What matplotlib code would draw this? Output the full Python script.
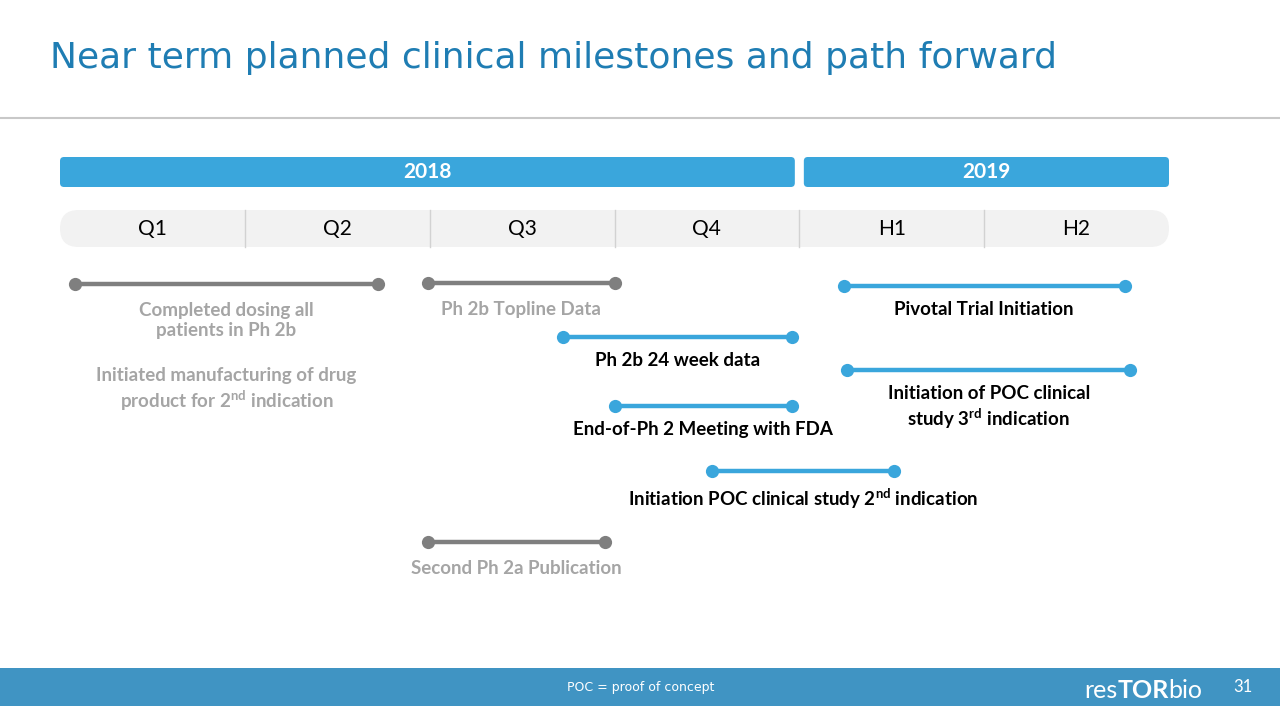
import matplotlib
matplotlib.use("Agg")
import matplotlib.pyplot as plt
from matplotlib.patches import FancyBboxPatch, Rectangle

plt.rcParams['mathtext.fontset'] = 'custom'
plt.rcParams['mathtext.rm'] = 'Lato'
plt.rcParams['mathtext.bf'] = 'Lato:bold'

# ---------------- data ----------------
title = "Near term planned clinical milestones and path forward"
periods = ["Q1", "Q2", "Q3", "Q4", "H1", "H2"]
years = ["2018", "2019"]
year_start = [0, 4]
year_end = [4, 6]

labels = [
    "Completed dosing all\npatients in Ph 2b",
    "Ph 2b Topline Data",
    "Second Ph 2a Publication",
    "Ph 2b 24 week data",
    "End-of-Ph 2 Meeting with FDA",
    "Initiation POC clinical study 2$^{\\mathbf{nd}}$ indication",
    "Pivotal Trial Initiation",
    "Initiation of POC clinical\nstudy 3$^{\\mathbf{rd}}$ indication",
]
starts = [0.08, 1.99, 1.99, 2.72, 3.00, 3.53, 4.24, 4.26]
ends = [1.72, 3.00, 2.95, 3.96, 3.96, 4.51, 5.76, 5.79]
done = [True, True, True, False, False, False, False, False]
rows = [284, 283, 542, 337, 406, 471, 286, 370]   # vertical slot (pixels)

extra_note = "Initiated manufacturing of drug\nproduct for 2$^{\\mathbf{nd}}$ indication"
footnote = "POC = proof of concept"
page = "31"

# ---------------- style ----------------
W, H = 1280, 720
X0, X1 = 60, 1169          # pixel extent of timeline
unit = (X1 - X0) / len(periods)
BLUE = "#3aa6dc"
GRAY = "#7f7f7f"
GRAY_TXT = "#a5a5a5"
TITLE_C = "#1f7db3"
FOOT_C = "#4094c3"

fig = plt.figure(figsize=(12.8, 7.2), dpi=100)
fig.patch.set_facecolor("white")

# pixel axes for page chrome
axp = fig.add_axes([0, 0, 1, 1])
axp.set_xlim(0, W)
axp.set_ylim(H, 0)
axp.axis("off")

axp.text(50, 58, title, fontsize=26, color=TITLE_C, family="DejaVu Sans",
         va="center", ha="left")
axp.plot([0, W], [118, 118], color="#c8c8c8", lw=1.5)
axp.add_patch(Rectangle((0, 668), W, 38, facecolor=FOOT_C, edgecolor="none"))
axp.text(567, 688, footnote, fontsize=9, color="white", va="center", ha="left",
         family="DejaVu Sans")
axp.text(1243, 687, page, fontsize=12, color="white", va="center", ha="center",
         family="Lato")
t1 = axp.text(1084, 690, "res", fontsize=18, color="white", va="center",
              ha="left", family="Lato")
t2 = axp.annotate("TOR", xy=(1, 0), xycoords=t1, va="bottom", ha="left",
                  fontsize=18, color="white", family="Lato", fontweight="bold")
axp.annotate("bio", xy=(1, 0), xycoords=t2, va="bottom", ha="left",
             fontsize=18, color="white", family="Lato")

# timeline axes (x in periods, y in pixel rows)
ax = fig.add_axes([0, 0, 1, 1])
ax.set_xlim(-X0 / unit, (W - X0) / unit)
ax.set_ylim(H, 0)
ax.axis("off")
ax.patch.set_alpha(0)
asp = unit  # y units per x unit

# year bars
gap = 4.5 / unit
for yl, s, e in zip(years, year_start, year_end):
    s2 = s + (gap if s > 0 else 0)
    e2 = e - (gap if e < len(periods) else 0)
    ax.add_patch(FancyBboxPatch((s2, 157), e2 - s2, 30,
                                boxstyle=f"round,pad=0,rounding_size={4/unit}",
                                mutation_aspect=asp, facecolor=BLUE,
                                edgecolor="none"))
    ax.text((s2 + e2) / 2, 172.5, yl, color="white", fontsize=15,
            fontweight="bold", family="Lato", ha="center", va="center")

# period strip
ax.add_patch(FancyBboxPatch((0, 210), len(periods), 37,
                            boxstyle=f"round,pad=0,rounding_size={18.5/unit}",
                            mutation_aspect=asp, facecolor="#f2f2f2",
                            edgecolor="none"))
for i, p in enumerate(periods):
    ax.text(i + 0.5, 229, p, fontsize=15, family="Lato", ha="center",
            va="center", color="black")
    if i > 0:
        ax.plot([i, i], [210, 247], color="#d2d2d2", lw=1)

# milestones
for lab, s, e, d, r in zip(labels, starts, ends, done, rows):
    c = GRAY if d else BLUE
    tc = GRAY_TXT if d else "black"
    ax.plot([s, e], [r, r], color=c, lw=3.2, solid_capstyle="butt",
            marker="o", markersize=9.5, markeredgewidth=0)
    ax.text((s + e) / 2, r + (18 if d else 15), lab, fontsize=13.5,
            fontweight="bold", family="Lato", color=tc, ha="center",
            va="top", linespacing=1.2)

# additional note under the first milestone
ax.text((starts[0] + ends[0]) / 2, 367, extra_note, fontsize=13.5,
        fontweight="bold", family="Lato", color=GRAY_TXT, ha="center",
        va="top", linespacing=1.2)

fig.savefig("out.png", dpi=100, facecolor="white")
